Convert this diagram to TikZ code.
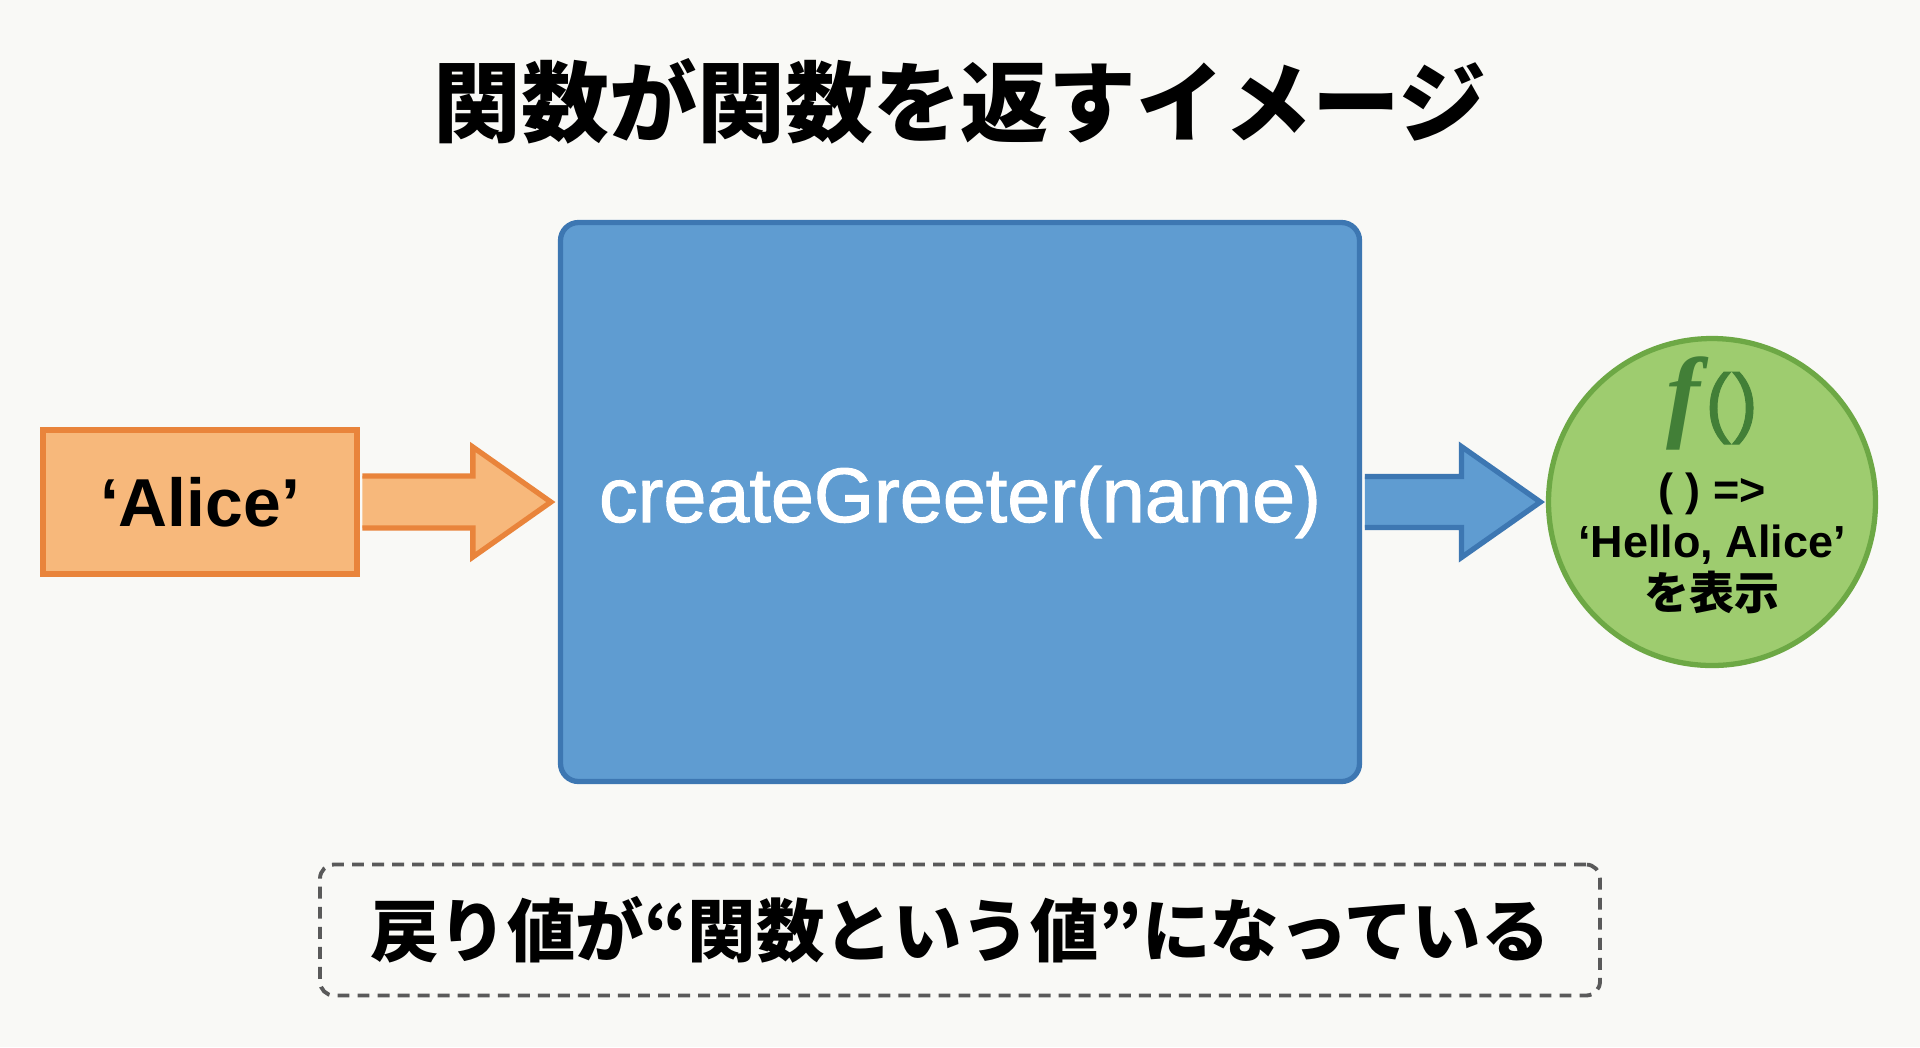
\documentclass[tikz,border=0pt]{standalone}
\usepackage{fontspec}
\setmainfont{Liberation Sans}
\newfontfamily\cjk{Noto Sans CJK JP}
\newfontfamily\medsans{Liberation Sans}[FakeBold=1.3]
\newfontfamily\fserif{Liberation Serif}
\usetikzlibrary{calc}
\definecolor{bgcol}{HTML}{F9F9F6}
\definecolor{boxblue}{HTML}{5F9CD1}
\definecolor{lineblue}{HTML}{3D77B2}
\definecolor{boxorange}{HTML}{F7B87B}
\definecolor{lineorange}{HTML}{E9843B}
\definecolor{boxgreen}{HTML}{9ECC6F}
\definecolor{linegreen}{HTML}{6DA845}
\definecolor{darkgreen}{HTML}{427F37}
\definecolor{dashgray}{HTML}{5A5A5A}
\begin{document}
\begin{tikzpicture}[y=-1cm,
  inbox/.style={draw=lineorange,fill=boxorange,line width=1.5pt},
  funcbox/.style={draw=lineblue,fill=boxblue,line width=1.5pt},
  resultbox/.style={draw=linegreen,fill=boxgreen,line width=1.5pt},
  notebox/.style={draw=dashgray,line width=1.1pt,dash pattern=on 3.4pt off 2.3pt,rounded corners=0.14cm}]
\fill[bgcol] (0,0) rectangle (19.2,10.47);
\useasboundingbox (0,0) rectangle (19.2,10.47);

\node (title) at (9.6,1.01) {\cjk\bfseries\fontsize{25}{30}\selectfont 関数が関数を返すイメージ};

\node[inbox,minimum width=3.14cm,minimum height=1.44cm,inner sep=0pt] (alice) at (2.0,5.02)
  {\bfseries\fontsize{19.3}{23}\selectfont ‘Alice’};
\node[funcbox,rounded corners=0.18cm,minimum width=7.99cm,minimum height=5.59cm] (main) at (9.6,5.02)
  {\color{white}\medsans\fontsize{22}{26}\selectfont createGreeter(name)};
\node[resultbox,circle,minimum size=3.27cm,inner sep=0pt] (result) at (17.12,5.02) {};
\node[text=darkgreen] (fsym) at (17.12,4.03)
  {{\fserif\bfseries\itshape\fontsize{29}{32}\selectfont f}{\medsans\fontsize{22}{24}\selectfont\kern1.5pt(\kern0.3pt)}};
\node[align=center,font=\bfseries\fontsize{12.8}{14.8}\selectfont] (body) at (17.12,5.43)
  {( ) =>\\‘Hello, Alice’\\{\cjk\bfseries を表示}};

\node[notebox,minimum width=12.8cm,minimum height=1.31cm] (note) at (9.6,9.3)
  {\cjk\bfseries\fontsize{19.5}{24}\selectfont 戻り値が“関数という値”になっている};

\coordinate (intip) at ($(main.west)+(-0.07,0)$);
\draw[inbox] ($(alice.east)+(0.75pt,-0.26)$) -- ($(intip)+(-0.78,-0.26)$) -- ($(intip)+(-0.78,-0.55)$)
  -- (intip) -- ($(intip)+(-0.78,0.55)$) -- ($(intip)+(-0.78,0.26)$) -- ($(alice.east)+(0.75pt,0.26)$);

\coordinate (outtip) at ($(result.west)+(-0.055,0)$);
\draw[funcbox] ($(main.east)+(0.75pt,-0.255)$) -- ($(outtip)+(-0.79,-0.255)$) -- ($(outtip)+(-0.79,-0.555)$)
  -- (outtip) -- ($(outtip)+(-0.79,0.555)$) -- ($(outtip)+(-0.79,0.255)$) -- ($(main.east)+(0.75pt,0.255)$);
\end{tikzpicture}
\end{document}
